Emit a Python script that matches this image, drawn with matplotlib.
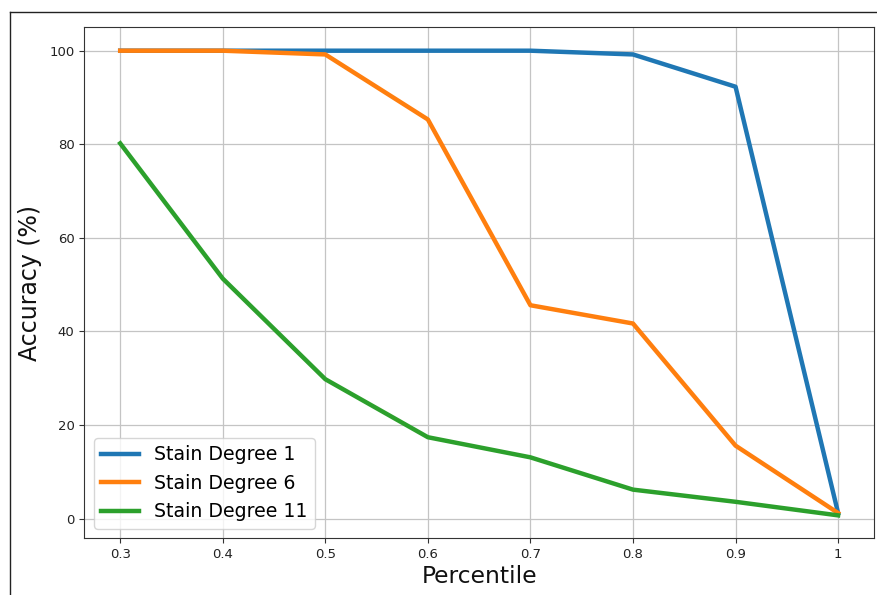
import matplotlib
matplotlib.use("Agg")
import matplotlib.pyplot as plt
from matplotlib.lines import Line2D

percentiles = [0.3, 0.4, 0.5, 0.6, 0.7, 0.8, 0.9, 1.0]
tick_labels = ["0.3", "0.4", "0.5", "0.6", "0.7", "0.8", "0.9", "1"]
stain_1 = [100.0, 100.0, 100.0, 100.0, 100.0, 99.2, 92.3, 1.2]
stain_6 = [100.0, 100.0, 99.2, 85.3, 45.6, 41.7, 15.6, 1.2]
stain_11 = [80.2, 51.3, 29.8, 17.4, 13.1, 6.2, 3.6, 0.7]

series = [
    ("Stain Degree 1", stain_1, "#1f77b4"),
    ("Stain Degree 6", stain_6, "#ff7f0e"),
    ("Stain Degree 11", stain_11, "#2ca02c"),
]

W, H = 877, 595
fig = plt.figure(figsize=(W / 100, H / 100), dpi=100)
ax = fig.add_axes([84.3 / W, 1 - 538.3 / H, (874 - 84.3) / W, (538.3 - 27.3) / H])

for name, vals, color in series:
    ax.plot(percentiles, vals, color=color, linewidth=3.2, label=name)

ax.set_xticks(percentiles)
ax.set_xticklabels(tick_labels)
ax.set_yticks([0, 20, 40, 60, 80, 100])
ax.tick_params(labelsize=9.5, colors="#333333", labelcolor="#222222")
ax.set_ylim(-4.2, 105)
ax.grid(True, color="#c4c4c4", linewidth=0.9)
ax.set_axisbelow(True)
for s in ax.spines.values():
    s.set_color("#333333")

ax.set_xlabel("Percentile", fontsize=16.8, color="#111111", labelpad=3)
ax.set_ylabel("Accuracy (%)", fontsize=17, color="#111111", labelpad=5)

ax.legend(loc="lower left", fontsize=13.6, handlelength=2.0, framealpha=0.8)

# outer frame around the figure
fx, fy = 9.5, 11.7
fig.add_artist(Line2D([fx / W, fx / W], [0, 1 - fy / H], transform=fig.transFigure,
                      color="#222222", linewidth=1.0))
fig.add_artist(Line2D([fx / W, 1], [1 - fy / H, 1 - fy / H], transform=fig.transFigure,
                      color="#222222", linewidth=1.0))

fig.savefig("out.png", dpi=100)
